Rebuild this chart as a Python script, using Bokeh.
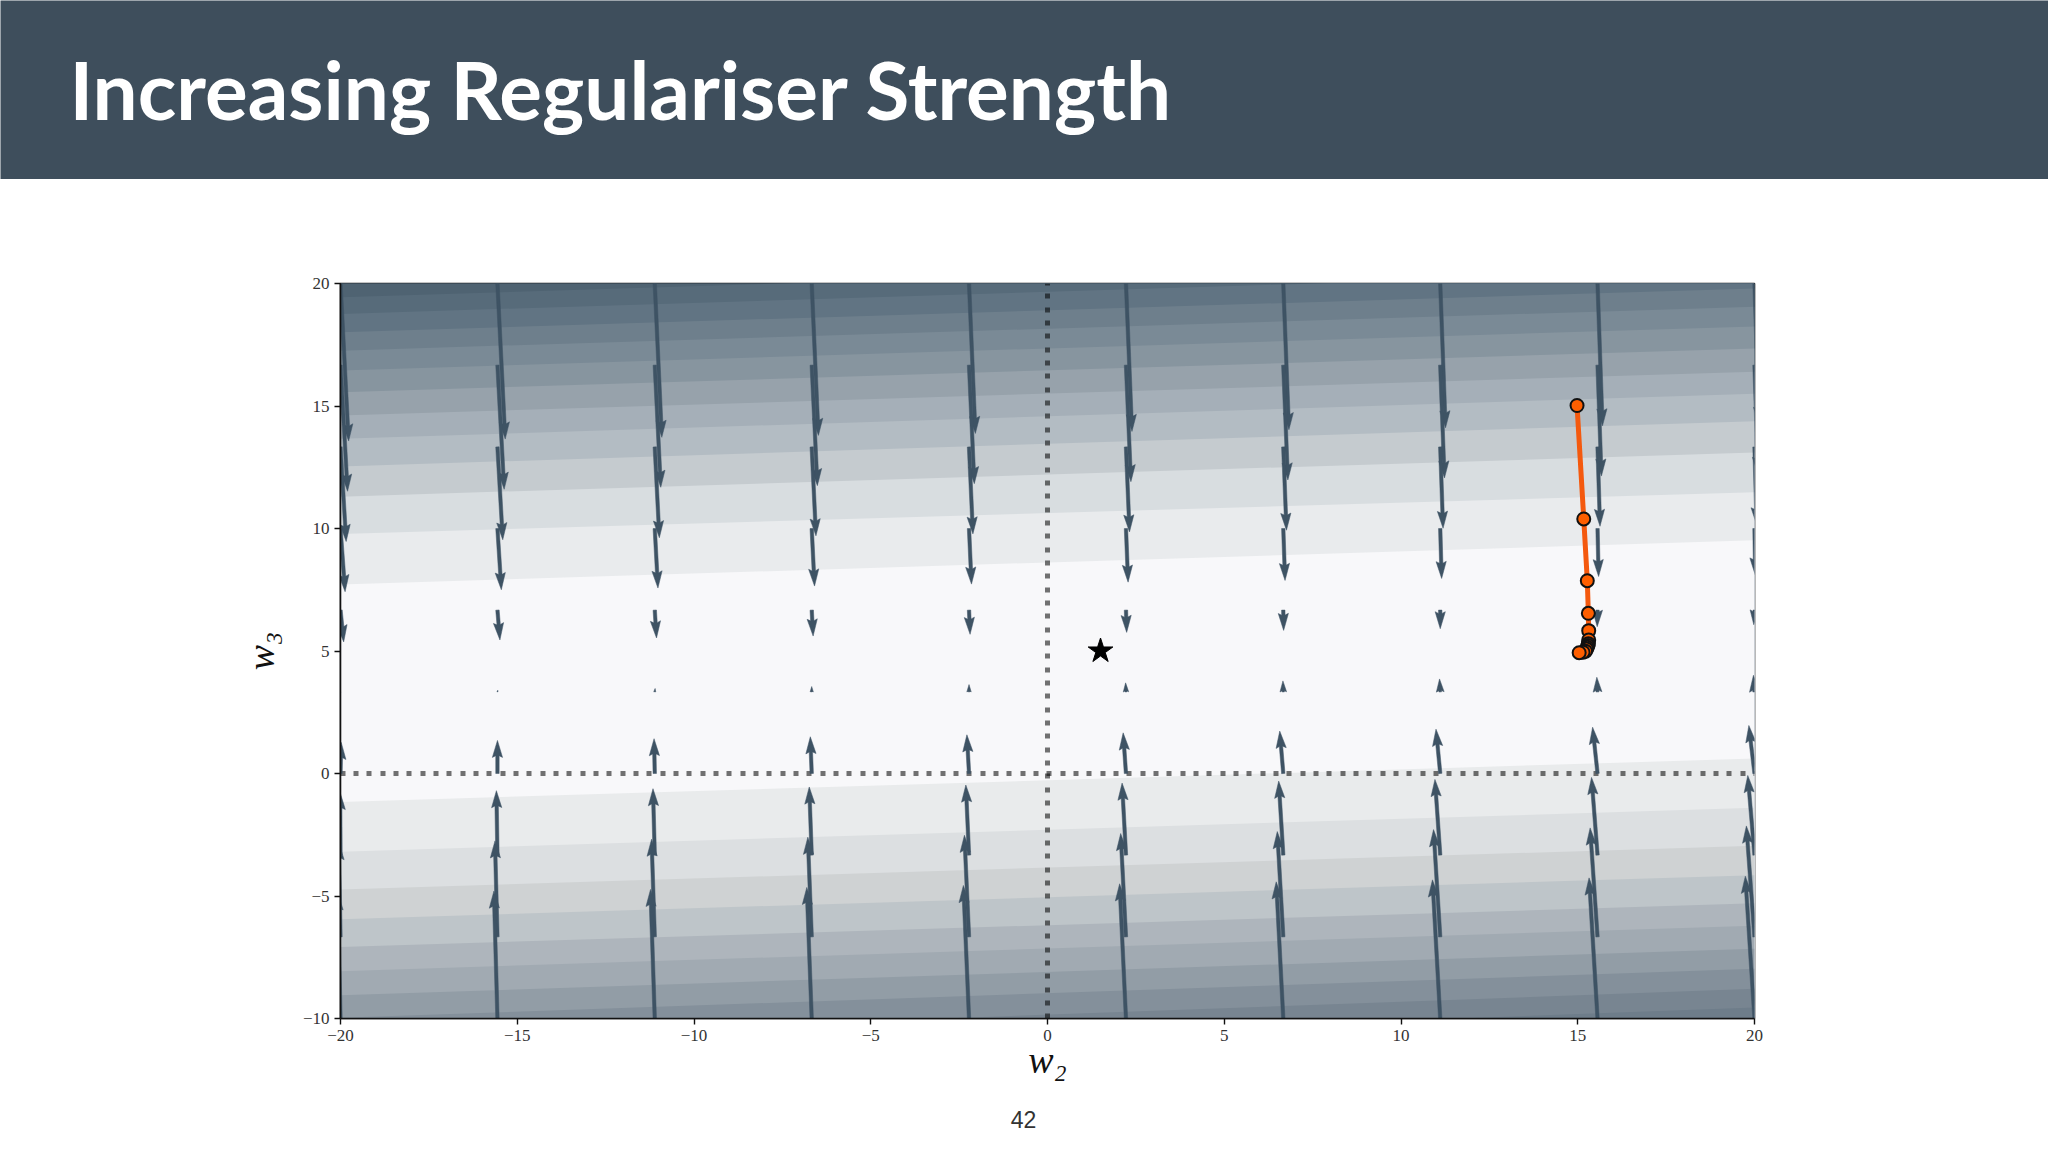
from bokeh.core.properties import value
from bokeh.embed import file_html
from bokeh.resources import INLINE
from bokeh.plotting import figure
from bokeh.layouts import column
from bokeh.models import Range1d, FixedTicker
import math

TITLE = "Increasing Regulariser Strength"
PAGE_NUMBER = "42"
X_TICKS = [-20, -15, -10, -5, 0, 5, 10, 15, 20]
Y_TICKS = [-10, -5, 0, 5, 10, 15, 20]

# contour band boundaries read at left / right edges, top to bottom
BAND_LEFT = [21.6, 20.2, 19.44, 18.76, 18.01, 17.26, 16.45, 15.56, 14.61, 13.66, 12.53, 11.30, 9.78, 7.71,
             -1.16, -3.19, -4.73, -5.95, -7.08, -8.07, -9.05, -9.97, -10.9, -11.7]
BAND_RIGHT = [23.4, 22.0, 21.24, 20.56, 19.8, 19.05, 18.25, 17.35, 16.4, 15.5, 14.38, 13.1, 11.48, 9.52,
              0.61, -1.4, -2.95, -4.15, -5.3, -6.21, -7.15, -7.97, -8.79, -9.55]
BAND_COLORS = ["#4A5F6E", "#4F6372", "#576B7A", "#617483", "#6E7F8C", "#7A8A96", "#87959F", "#97A2AB", "#A5AFB8",
               "#B3BCC3", "#C5CBCF", "#D8DDE0", "#E9EBED", "#F8F8FA",
               "#E9EBEC", "#DCDFE1", "#CFD2D3", "#BEC5C9", "#AEB5BC", "#A1AAB2", "#929DA6", "#84909B", "#788591", "#6E7D8A"]

# quiver grid
COL_X = [-20, -15.56, -11.11, -6.67, -2.22, 2.22, 6.67, 11.11, 15.56, 20]
ROW_Y = [20, 16.67, 13.33, 10, 6.67, 3.33, 0, -3.33, -6.67, -10]
U_ROWS = [
    [.23, .22, .20, .19, .18, .17, .16, .15, .14, .13],
    [.20, .19, .17, .16, .15, .14, .13, .12, .11, .10],
    [.16, .15, .13, .12, .11, .10, .09, .08, .07, .06],
    [.13, .11, .09, .08, .07, .06, .05, .04, .03, .02],
    [.09, .07, .05, .04, .03, .02, .01, 0, -.01, -.02],
    [.01, .01, .01, 0, 0, -.01, -.01, -.02, -.02, -.03],
    [.02, 0, -.02, -.04, -.06, -.08, -.10, -.12, -.14, -.16],
    [-.01, -.03, -.05, -.07, -.09, -.11, -.13, -.15, -.17, -.19],
    [-.05, -.07, -.09, -.11, -.13, -.15, -.17, -.19, -.21, -.23],
    [-.08, -.10, -.12, -.14, -.16, -.18, -.20, -.22, -.24, -.26],
]
V_ROWS = [
    [-6.43, -6.35, -6.28, -6.20, -6.12, -6.04, -5.97, -5.89, -5.81, -5.74],
    [-5.15, -5.07, -4.99, -4.92, -4.84, -4.76, -4.69, -4.61, -4.53, -4.45],
    [-3.86, -3.79, -3.71, -3.63, -3.55, -3.47, -3.40, -3.32, -3.24, -3.17],
    [-2.58, -2.50, -2.43, -2.35, -2.27, -2.19, -2.12, -2.04, -1.96, -1.89],
    [-1.30, -1.22, -1.14, -1.06, -.99, -.91, -.83, -.76, -.68, -.60],
    [-.01, .07, .14, .22, .30, .37, .45, .53, .60, .68],
    [1.27, 1.35, 1.42, 1.50, 1.58, 1.66, 1.73, 1.81, 1.89, 1.96],
    [2.55, 2.63, 2.71, 2.78, 2.86, 2.94, 3.02, 3.09, 3.17, 3.25],
    [3.84, 3.92, 3.99, 4.07, 4.15, 4.22, 4.30, 4.38, 4.45, 4.53],
    [5.12, 5.20, 5.27, 5.35, 5.43, 5.50, 5.58, 5.66, 5.74, 5.81],
]

# optimiser path
PATH_W2 = [14.98, 15.17, 15.27, 15.30, 15.31, 15.31, 15.30, 15.29, 15.27, 15.25, 15.22, 15.15, 15.04]
PATH_W3 = [15.02, 10.39, 7.87, 6.54, 5.83, 5.45, 5.30, 5.22, 5.15, 5.08, 4.99, 4.95, 4.93]
STAR_W2 = [1.5]
STAR_W3 = [5.0]

PAGE_W, PAGE_H = 2048, 1152
HEADER_H, FOOTER_H = 179, 62
FW, FH = 1414, 735
LEFT, TOP = 340, 283
XMIN, XMAX, YMIN, YMAX = -20, 20, -10, 20
SX, SY = FW / (XMAX - XMIN), FH / (YMAX - YMIN)
DOTS = [5, 8, 5, 8, 5, 9]


def strip(height, color):
    """A full-width panel with a pixel coordinate system, for the slide's header and footer."""
    s = figure(width=PAGE_W, height=height, output_backend="svg", toolbar_location=None,
               x_range=Range1d(0, PAGE_W), y_range=Range1d(height, 0), frame_align=False,
               min_border=0, background_fill_color=color, border_fill_color=color, outline_line_color=None)
    s.axis.visible = False
    s.grid.visible = False
    return s


header = strip(HEADER_H, "#3E4E5C")
header.text(x=[69], y=[88], text=[TITLE], text_font=value("Lato"), text_font_style="bold", text_font_size="80px",
            text_color="white", text_baseline="alphabetic")

footer = strip(FOOTER_H, "white")
footer.text(x=[1023], y=[29], text=[PAGE_NUMBER], text_font=value("Liberation Sans"), text_font_size="23px",
            text_color="#333333", text_align="center", text_baseline="alphabetic")

MAIN_H = PAGE_H - HEADER_H - FOOTER_H
p = figure(width=PAGE_W, height=MAIN_H, output_backend="svg", toolbar_location=None,
           x_range=Range1d(XMIN, XMAX), y_range=Range1d(YMIN, YMAX),
           frame_width=FW, frame_height=FH, frame_align=False,
           min_border_left=LEFT, min_border_right=PAGE_W - LEFT - FW,
           min_border_top=TOP - HEADER_H, min_border_bottom=MAIN_H - (TOP - HEADER_H) - FH,
           background_fill_color="#F8F8FA", border_fill_color="white")
p.grid.visible = False
p.outline_line_color = "#111111"
p.outline_line_width = 1.6

for ax, ticks, label in ((p.xaxis[0], X_TICKS, "w\u2082"), (p.yaxis[0], Y_TICKS, "w\u2083")):
    ax.ticker = FixedTicker(ticks=ticks)
    ax.major_label_overrides = {t: (str(t).replace("-", "\u2212")) for t in ticks}
    ax.major_label_text_font = "Liberation Serif"
    ax.major_label_text_font_size = "17px"
    ax.major_label_text_color = "#333333"
    ax.major_tick_in = 0
    ax.major_tick_out = 6
    ax.minor_tick_in = 0
    ax.minor_tick_out = 0
    ax.major_tick_line_color = "#111111"
    ax.major_tick_line_width = 1.4
    ax.axis_line_color = "#111111"
    ax.axis_line_width = 1.6
    ax.axis_label = label
    ax.axis_label_text_font = "Liberation Serif"
    ax.axis_label_text_font_style = "italic"
    ax.axis_label_text_font_size = "38px"
    ax.axis_label_text_color = "#111111"
p.xaxis[0].major_label_standoff = 5
p.yaxis[0].major_label_standoff = 5
p.xaxis[0].axis_label_standoff = -5
p.yaxis[0].axis_label_standoff = 18

# contour bands, painted top to bottom so that each covers all below it
for i, c in enumerate(BAND_COLORS):
    p.varea(x=[XMIN, XMAX], y1=[YMIN - 1, YMIN - 1], y2=[BAND_LEFT[i], BAND_RIGHT[i]],
            fill_color=c, fill_alpha=1)

# reference lines
p.line([XMIN, XMAX], [0, 0], line_color="black", line_alpha=0.55, line_width=5, line_dash=DOTS)
p.line([0, 0], [YMIN, YMAX], line_color="black", line_alpha=0.55, line_width=5, line_dash=DOTS)

# quiver: each arrow is a polygon from its tail and (u, v), with matplotlib-style proportions
W, HW, HL, HAL = 3.4, 10.2, 17.0, 15.3
xs, ys = [], []
for r, y0 in enumerate(ROW_Y):
    for c, x0 in enumerate(COL_X):
        dx, dy = U_ROWS[r][c] * SX, V_ROWS[r][c] * SY
        L = math.hypot(dx, dy)
        if L == 0:
            continue
        k = min(1.0, L / HL)
        ux, uy = dx / L, dy / L
        nx, ny = -uy, ux
        poly = [(0, W / 2 * k), (L - HAL * k, W / 2 * k), (L - HL * k, HW / 2 * k), (L, 0),
                (L - HL * k, -HW / 2 * k), (L - HAL * k, -W / 2 * k), (0, -W / 2 * k)]
        xs.append([x0 + (a * ux + b * nx) / SX for a, b in poly])
        ys.append([y0 + (a * uy + b * ny) / SY for a, b in poly])
p.patches(xs, ys, fill_color="#3E5364", line_color="#3E5364", line_width=0.5)

# optimiser path and optimum
p.line(PATH_W2, PATH_W3, line_color="#F4590E", line_width=5)
p.scatter(PATH_W2, PATH_W3, marker="circle", size=13, fill_color="#FF5F00", line_color="#111111", line_width=2)
p.scatter(STAR_W2, STAR_W3, marker="star", size=26, fill_color="black", line_color="black")

page = column(header, p, footer, spacing=0, styles={"position": "absolute", "left": "0px", "top": "0px"})
open("out.html", "w").write(file_html(page, INLINE))
